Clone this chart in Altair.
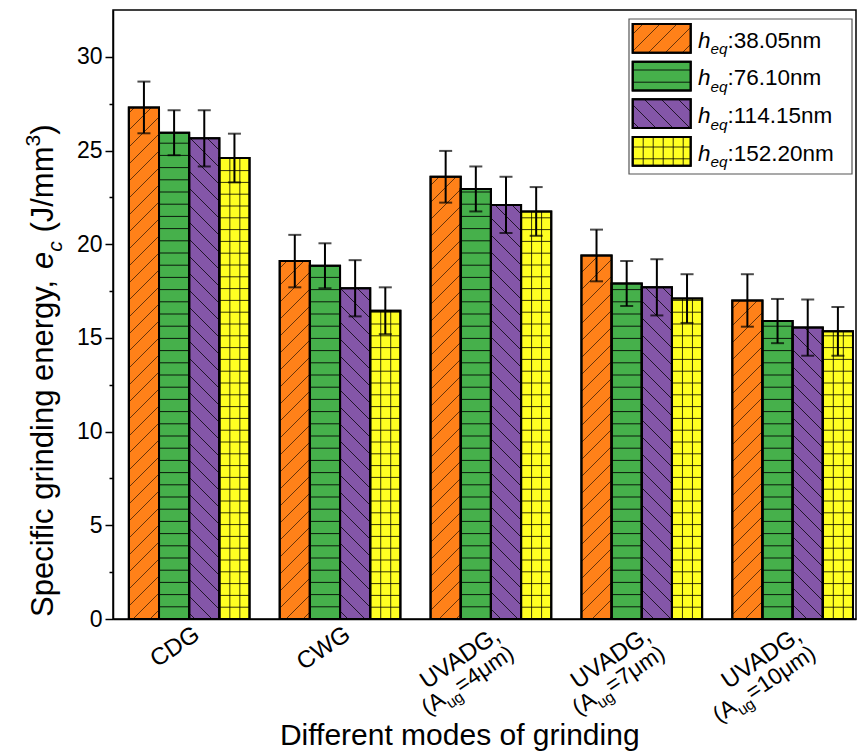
import math
import altair as alt
import pandas as pd

# ---------------- data ----------------
groups = ["CDG", "CWG", "UVADG-4", "UVADG-7", "UVADG-10"]
heq_labels = ["38.05", "76.10", "114.15", "152.20"]

ec_38 = [27.3, 19.1, 23.6, 19.4, 17.0]
ec_76 = [25.95, 18.85, 22.95, 17.9, 15.9]
ec_114 = [25.65, 17.65, 22.1, 17.7, 15.55]
ec_152 = [24.6, 16.45, 21.75, 17.1, 15.35]

err_38 = [1.38, 1.4, 1.38, 1.38, 1.4]
err_76 = [1.2, 1.2, 1.2, 1.2, 1.18]
err_114 = [1.5, 1.5, 1.5, 1.5, 1.5]
err_152 = [1.3, 1.25, 1.3, 1.3, 1.3]

cat_line1 = ["CDG", "CWG", "UVADG,", "UVADG,", "UVADG,"]
cat_amp = ["", "", "4", "7", "10"]

y_tick_values = [0, 2.5, 5, 7.5, 10, 12.5, 15, 17.5, 20, 22.5, 25, 27.5, 30]

# ---------------- styles ----------------
FONT = "Liberation Sans"
colors = ["#FF8119", "#46B04B", "#8456A8", "#FFFF22"]
patterns = ["fwd", "h", "back", "grid"]
hatch_opacity = [0.6, 0.85, 0.75, 0.8]

W, H = 743, 609
XMIN, XMAX, YMAX = 0.495, 5.42, 32.5
BAR_W = 0.2


def px(x):
    return (x - XMIN) / (XMAX - XMIN) * W


def py(y):
    return H - y / YMAX * H


def inv_px(p):
    return XMIN + p / W * (XMAX - XMIN)


def inv_py(p):
    return (H - p) / H * YMAX


def hatch(kind, x0, y0, x1, y1):
    """Line segments (pixel space) filling the rectangle with a pattern."""
    segs = []
    if kind in ("fwd", "back"):
        sp = 17.0
        if kind == "fwd":  # lines x + y = c
            c = math.floor((x0 + y0) / sp) * sp
            while c <= x1 + y1:
                lo, hi = max(x0, c - y1), min(x1, c - y0)
                if hi - lo > 0.5:
                    segs.append((lo, c - lo, hi, c - hi))
                c += sp
        else:  # lines y - x = c
            c = math.floor((y0 - x1) / sp) * sp
            while c <= y1 - x0:
                lo, hi = max(x0, y0 - c), min(x1, y1 - c)
                if hi - lo > 0.5:
                    segs.append((lo, lo + c, hi, hi + c))
                c += sp
    if kind in ("h", "grid"):
        sp = 12.2 if kind == "h" else 11.8
        c = H - sp
        while c > y0 + 1:
            if c < y1 - 1:
                segs.append((x0, c, x1, c))
            c -= sp
    if kind == "grid":
        c = x0 + 10.5
        while c < x1 - 1:
            segs.append((c, y0, c, y1))
            c += 10.0
    return segs


# ---------------- text layout helpers ----------------
_w = {}
for ch in "0123456789":
    _w[ch] = 556
for ch, v in zip("abcdefghijklmnopqrstuvwxyz",
                 [556, 556, 500, 556, 556, 278, 556, 556, 222, 222, 500, 222, 833,
                  556, 556, 556, 556, 333, 500, 278, 556, 500, 722, 500, 500, 500]):
    _w[ch] = v
for ch, v in zip("ABCDEFGHIJKLMNOPQRSTUVWXYZ",
                 [667, 667, 722, 722, 667, 611, 778, 722, 278, 500, 667, 556, 833,
                  722, 778, 667, 778, 722, 667, 611, 722, 667, 944, 667, 667, 611]):
    _w[ch] = v
_w.update({" ": 278, ",": 278, ".": 278, ":": 278, "/": 278, "(": 333, ")": 333,
           "=": 584, "μ": 576, "-": 333})


def text_width(s, size):
    return sum(_w.get(ch, 556) for ch in s) / 1000.0 * size


def lay_out(pieces, x, y, angle, size, align="left"):
    a = math.radians(angle)
    d = (math.cos(a), math.sin(a))
    n = (-math.sin(a), math.cos(a))
    specs, total = [], 0.0
    for text, kind in pieces:
        fs = size * (0.68 if kind in ("sub", "subi", "sup") else 1.0)
        w = text_width(text, fs)
        specs.append((text, kind, fs, w))
        total += w
    pos = {"left": 0.0, "center": -total / 2, "right": -total}[align]
    rows = []
    for text, kind, fs, w in specs:
        shift = 0.3 * size if kind in ("sub", "subi") else (-0.42 * size if kind == "sup" else 0.0)
        body = text.lstrip(" ")
        lead = text_width(text[: len(text) - len(body)], fs)
        p = pos + lead
        rows.append(dict(x=x + d[0] * p + n[0] * shift,
                         y=y + d[1] * p + n[1] * shift,
                         text=body.rstrip(" "), size=fs, angle=angle % 360,
                         italic=kind in ("i", "subi")))
        pos += w
    return rows


# ---------------- tables ----------------
values = [ec_38, ec_76, ec_114, ec_152]
errors = [err_38, err_76, err_114, err_152]

bar_rows, hatch_rows = [], []
for j, name in enumerate(heq_labels):
    for i, g in enumerate(groups):
        center = i + 1
        x0 = center - 2 * BAR_W + j * BAR_W
        x1 = x0 + BAR_W
        v, e = values[j][i], errors[j][i]
        bar_rows.append(dict(group=g, heq=name, x0=x0, x1=x1, xc=(x0 + x1) / 2,
                             value=v, lo=v - e, hi=v + e))
        for (ax, ay, bx, by) in hatch(patterns[j], px(x0), py(v), px(x1), H):
            hatch_rows.append(dict(x=inv_px(ax), y=inv_py(ay), x2=inv_px(bx), y2=inv_py(by),
                                   op=hatch_opacity[j]))

bars_df = pd.DataFrame(bar_rows)
hatch_df = pd.DataFrame(hatch_rows)

color_scale = alt.Scale(domain=heq_labels, range=colors)

# legend (pixel space of the plot area)
LEG_X0, LEG_X1 = 519.7, 577.7
leg_top = [14.0, 51.7, 89.3, 127.0]
SW_H = 28.7
legend_box = pd.DataFrame([dict(x=516, x2=739, y=9, y2=164)])
sw_rows, sw_hatch, text_rows = [], [], []
for j, name in enumerate(heq_labels):
    t = leg_top[j]
    sw_rows.append(dict(heq=name, x=LEG_X0, x2=LEG_X1, y=t, y2=t + SW_H))
    for (ax, ay, bx, by) in hatch(patterns[j], LEG_X0, t, LEG_X1, t + SW_H):
        sw_hatch.append(dict(x=ax, y=ay, x2=bx, y2=by, op=hatch_opacity[j]))
    text_rows += lay_out([("h", "i"), ("eq", "subi"), (":" + name + "nm", "n")],
                         585, t + 23.5, 0, 22.5)
sw_df = pd.DataFrame(sw_rows)
sw_hatch_df = pd.DataFrame(sw_hatch)

# axis titles and category labels
text_rows += lay_out([("Specific grinding energy, ", "n"), ("e", "i"), ("c", "subi"),
                      (" (J/mm", "n"), ("3", "sup"), (")", "n")],
                     -60, 607, 270, 31)
text_rows += lay_out([("Different modes of grinding", "n")], 347, 735, 0, 30, align="center")

CAT_SIZE = 24
CAT_ANGLE = 326
for i, first in enumerate(cat_line1):
    ex, ey = px(i + 1) + 12, 628
    text_rows += lay_out([(first, "n")], ex, ey, CAT_ANGLE, CAT_SIZE, align="right")
    if cat_amp[i]:
        a = math.radians(CAT_ANGLE)
        lh = 0.95 * CAT_SIZE
        ex2, ey2 = ex - math.sin(a) * lh, ey + math.cos(a) * lh
        text_rows += lay_out([("(A", "n"), ("ug", "sub"), ("=" + cat_amp[i] + "μm)", "n")],
                             ex2, ey2, CAT_ANGLE, CAT_SIZE * 0.95, align="right")

text_df = pd.DataFrame(text_rows)
text_norm = text_df[~text_df["italic"]].drop(columns="italic")
text_ital = text_df[text_df["italic"]].drop(columns="italic")

# ---------------- chart ----------------
x_enc = alt.X("x0:Q", scale=alt.Scale(domain=[XMIN, XMAX], nice=False, zero=False),
              axis=alt.Axis(labels=False, ticks=False, title=None, grid=False,
                            domainColor="black", domainWidth=1.5))
y_enc = alt.Y("value:Q", scale=alt.Scale(domain=[0, YMAX], nice=False),
              axis=alt.Axis(values=y_tick_values, title=None, grid=False,
                            labelExpr="datum.value % 5 === 0 ? format(datum.value, 'd') : ''",
                            tickSize={"condition": {"test": "datum.value % 5 === 0", "value": 8},
                                      "value": 4},
                            tickColor="black", tickWidth=1.5, domainColor="black",
                            domainWidth=1.5, labelFont=FONT, labelFontSize=23,
                            labelColor="black", labelPadding=3))

bars = alt.Chart(bars_df).mark_bar(stroke="black", strokeWidth=2).encode(
    x=x_enc, x2="x1:Q", y=y_enc, y2=alt.datum(0),
    color=alt.Color("heq:N", scale=color_scale, legend=None))

hatches = alt.Chart(hatch_df).mark_rule(color="black", strokeWidth=1).encode(
    x="x:Q", x2="x2:Q", y="y:Q", y2="y2:Q", opacity=alt.Opacity("op:Q", scale=None))

outlines = alt.Chart(bars_df).mark_bar(fillOpacity=0, stroke="black", strokeWidth=2).encode(
    x="x0:Q", x2="x1:Q", y="value:Q", y2=alt.datum(0))

err_rule = alt.Chart(bars_df).mark_rule(color="black", strokeWidth=2).encode(
    x="xc:Q", y="lo:Q", y2="hi:Q")
cap_lo = alt.Chart(bars_df).mark_tick(orient="horizontal", size=13, thickness=2,
                                      color="black").encode(x="xc:Q", y="lo:Q")
cap_hi = alt.Chart(bars_df).mark_tick(orient="horizontal", size=13, thickness=2,
                                      color="black").encode(x="xc:Q", y="hi:Q")

pix = dict(x=alt.X("x:Q", scale=None, axis=None), y=alt.Y("y:Q", scale=None, axis=None))

leg_frame = alt.Chart(legend_box).mark_rect(fill="white", stroke="#555555", strokeWidth=1.2).encode(
    x2="x2:Q", y2="y2:Q", **pix)
leg_sw = alt.Chart(sw_df).mark_rect(stroke="black", strokeWidth=2).encode(
    x2="x2:Q", y2="y2:Q", color=alt.Color("heq:N", scale=color_scale, legend=None), **pix)
leg_hatch = alt.Chart(sw_hatch_df).mark_rule(color="black", strokeWidth=1).encode(
    x2="x2:Q", y2="y2:Q", opacity=alt.Opacity("op:Q", scale=None), **pix)
leg_outline = alt.Chart(sw_df).mark_rect(fillOpacity=0, stroke="black", strokeWidth=2).encode(
    x2="x2:Q", y2="y2:Q", **pix)


def text_layer(df, style):
    return alt.Chart(df).mark_text(font=FONT, align="left", baseline="alphabetic",
                                   fontStyle=style, color="black").encode(
        text="text:N", size=alt.Size("size:Q", scale=None),
        angle=alt.Angle("angle:Q", scale=None), **pix)


chart = alt.layer(
    bars, hatches, outlines, err_rule, cap_lo, cap_hi,
    leg_frame, leg_sw, leg_hatch, leg_outline,
    text_layer(text_norm, "normal"), text_layer(text_ital, "italic"),
).properties(
    width=W, height=H,
    padding={"left": 113, "top": 10, "right": 4, "bottom": 137},
    autosize=alt.AutoSizeParams(type="none"),
    background="white",
).configure_view(stroke="black", strokeWidth=1.5)

chart.save("out.html", embed_options={"renderer": "svg", "actions": False})
